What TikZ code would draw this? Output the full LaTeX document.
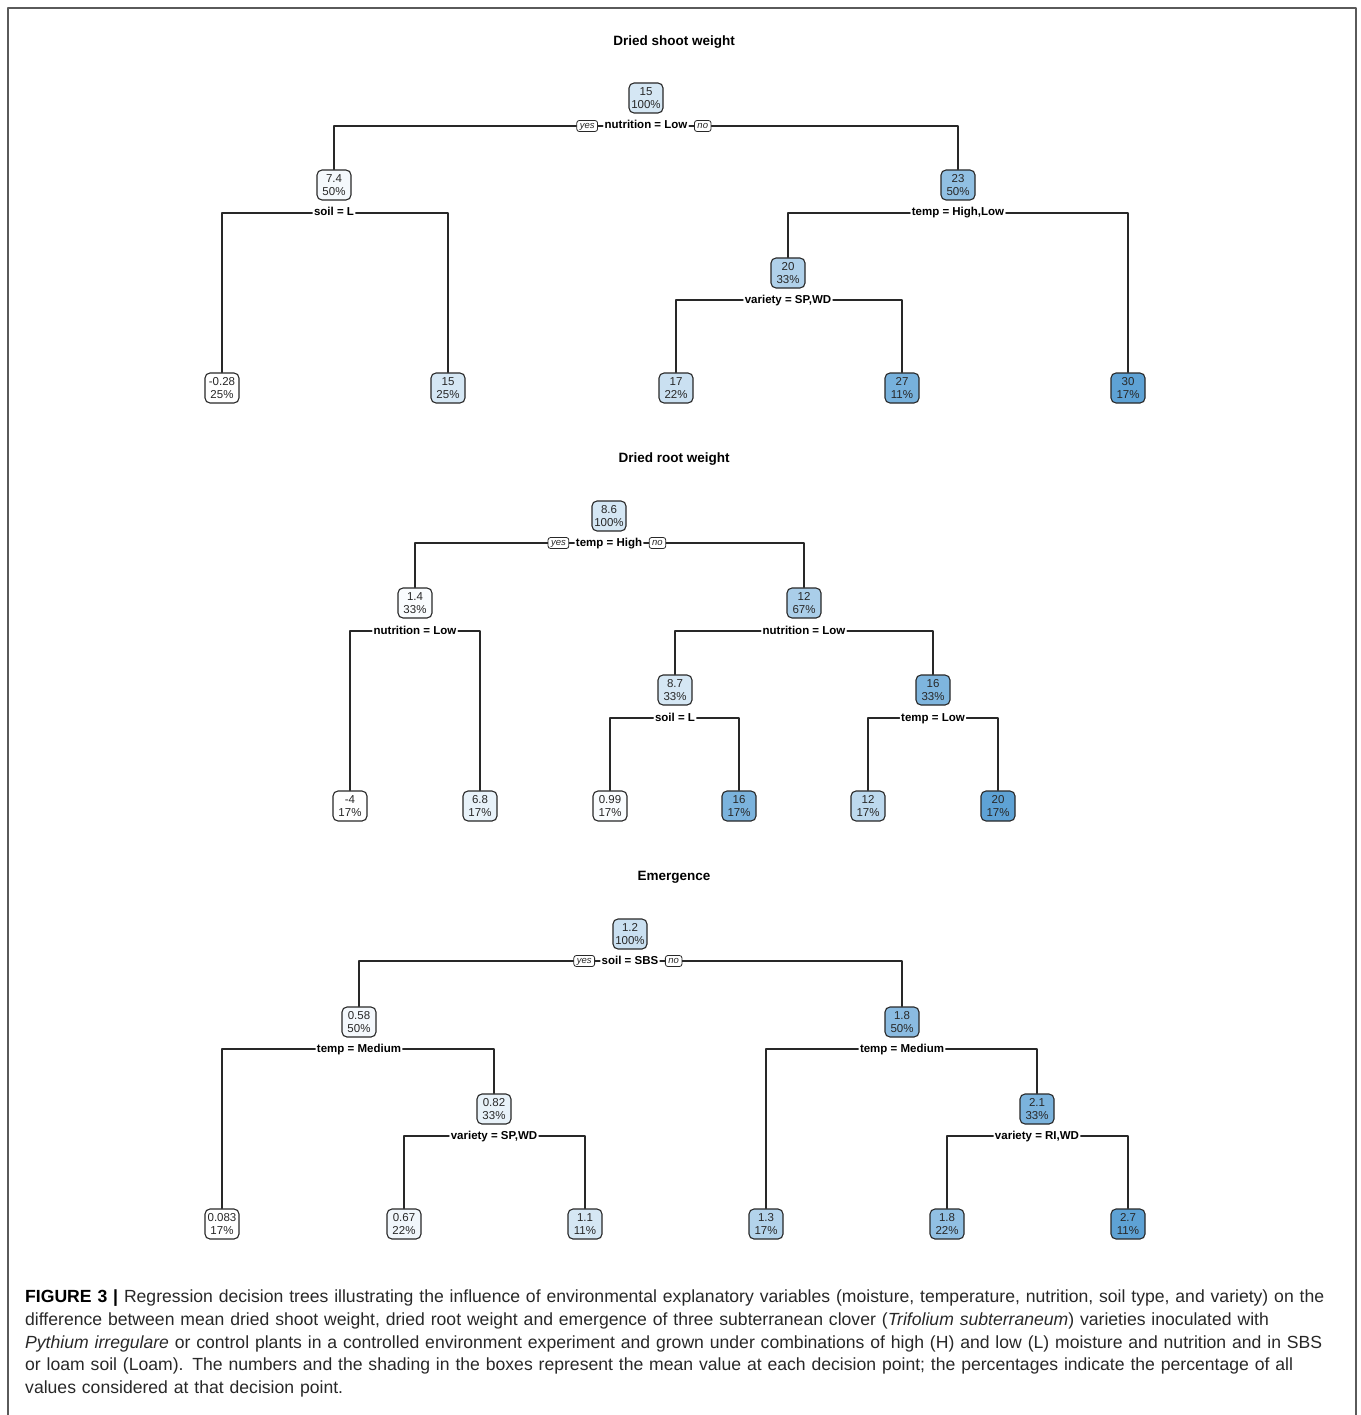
\documentclass[tikz,border=0pt]{standalone}
\usepackage{fontspec}
\setmainfont{Liberation Sans}
\usetikzlibrary{positioning}
\definecolor{treeblue}{RGB}{66,146,206}
\definecolor{framegray}{RGB}{90,90,90}
\definecolor{inkgray}{RGB}{40,40,40}
\begin{document}
\begin{tikzpicture}[x=1pt, y=-1pt, line cap=round, line join=round,
  tnode/.style={draw=inkgray, line width=1.1pt, rounded corners=5pt, align=center, minimum width=34pt, minimum height=30pt, inner sep=2pt, text=inkgray, font=\fontsize{11.5}{13.5}\selectfont},
  split/.style={inner xsep=1.5pt, inner ysep=0pt, text height=8.5pt, text depth=2.5pt, text=black, font=\bfseries\fontsize{11.5}{13}\selectfont},
  yesno/.style={draw=inkgray, line width=0.8pt, rounded corners=2.5pt, inner xsep=3pt, inner ysep=0.5pt, text height=7.5pt, text depth=2.5pt, text=inkgray, font=\itshape\fontsize{9.5}{11}\selectfont},
  edge/.style={draw=inkgray, line width=1.1pt},
  title/.style={font=\bfseries\fontsize{13.5}{16}\selectfont},
  caption/.style={anchor=north west, align=left, text width=1340pt, inner sep=0pt, text=inkgray, font=\fontsize{17.6}{22.6}\selectfont}]
  \useasboundingbox (0,0) rectangle (1360,1415);
  \clip (0,0) rectangle (1360,1415);
  % Frame
  \draw[framegray, line width=1.6pt] (8,1430) |- (1356,8) -- (1356,1430);

  % Dried shoot weight
  \node[title] (title-1) at (674,42) {Dried shoot weight};
  % First layer
  \node[tnode, fill=treeblue!22] (shoot-1-1) at (646,98) {15\\100\%};
  \node[split] (shoot-split-1) at (646,126) {nutrition = Low};
  \node[yesno, left=5pt of shoot-split-1] (shoot-yes) {yes};
  \node[yesno, right=5pt of shoot-split-1] (shoot-no) {no};
  % Second layer
  \node[tnode, fill=treeblue!6] (shoot-2-1) at (334,185) {7.4\\50\%};
  \node[tnode, fill=treeblue!58] (shoot-2-2) at (958,185) {23\\50\%};
  \node[split] (shoot-split-2) at (334,213) {soil = L};
  \node[split] (shoot-split-3) at (958,213) {temp = High,Low};
  % Third layer
  \node[tnode, fill=treeblue!42] (shoot-3-1) at (788,273) {20\\33\%};
  \node[split] (shoot-split-4) at (788,300) {variety = SP,WD};
  % Leaves
  \foreach \val/\pct/\shade/\xpos [count=\x] in {-0.28/25/0/222, 15/25/22/448, 17/22/28/676, 27/11/72/902, 30/17/85/1128}
    \node[tnode, fill=treeblue!\shade] (shoot-leaf-\x) at (\xpos,388) {\val\\\pct\%};
  % Connectors
  \draw[edge] (shoot-yes.west) -| (shoot-2-1);
  \draw[edge] (shoot-yes) -- (shoot-split-1);
  \draw[edge] (shoot-split-1) -- (shoot-no);
  \draw[edge] (shoot-no.east) -| (shoot-2-2);
  \draw[edge] (shoot-split-2.west) -| (shoot-leaf-1);
  \draw[edge] (shoot-split-2.east) -| (shoot-leaf-2);
  \draw[edge] (shoot-split-3.west) -| (shoot-3-1);
  \draw[edge] (shoot-split-3.east) -| (shoot-leaf-5);
  \draw[edge] (shoot-split-4.west) -| (shoot-leaf-3);
  \draw[edge] (shoot-split-4.east) -| (shoot-leaf-4);

  % Dried root weight
  \node[title] (title-2) at (674,459) {Dried root weight};
  % First layer
  \node[tnode, fill=treeblue!22] (root-1-1) at (609,516) {8.6\\100\%};
  \node[split] (root-split-1) at (609,543) {temp = High};
  \node[yesno, left=5pt of root-split-1] (root-yes) {yes};
  \node[yesno, right=5pt of root-split-1] (root-no) {no};
  % Second layer
  \node[tnode, fill=treeblue!3] (root-2-1) at (415,603) {1.4\\33\%};
  \node[tnode, fill=treeblue!45] (root-2-2) at (804,603) {12\\67\%};
  \node[split] (root-split-2) at (415,631) {nutrition = Low};
  \node[split] (root-split-3) at (804,631) {nutrition = Low};
  % Third layer
  \node[tnode, fill=treeblue!22] (root-3-1) at (675,690) {8.7\\33\%};
  \node[tnode, fill=treeblue!68] (root-3-2) at (933,690) {16\\33\%};
  \node[split] (root-split-4) at (675,718) {soil = L};
  \node[split] (root-split-5) at (933,718) {temp = Low};
  % Leaves
  \foreach \val/\pct/\shade/\xpos [count=\x] in {-4/17/0/350, 6.8/17/12/480, 0.99/17/3/610, 16/17/70/739, 12/17/35/868, 20/17/85/998}
    \node[tnode, fill=treeblue!\shade] (root-leaf-\x) at (\xpos,806) {\val\\\pct\%};
  % Connectors
  \draw[edge] (root-yes.west) -| (root-2-1);
  \draw[edge] (root-yes) -- (root-split-1);
  \draw[edge] (root-split-1) -- (root-no);
  \draw[edge] (root-no.east) -| (root-2-2);
  \draw[edge] (root-split-2.west) -| (root-leaf-1);
  \draw[edge] (root-split-2.east) -| (root-leaf-2);
  \draw[edge] (root-split-3.west) -| (root-3-1);
  \draw[edge] (root-split-3.east) -| (root-3-2);
  \draw[edge] (root-split-4.west) -| (root-leaf-3);
  \draw[edge] (root-split-4.east) -| (root-leaf-4);
  \draw[edge] (root-split-5.west) -| (root-leaf-5);
  \draw[edge] (root-split-5.east) -| (root-leaf-6);

  % Emergence
  \node[title] (title-3) at (674,877) {Emergence};
  % First layer
  \node[tnode, fill=treeblue!28] (emerg-1-1) at (630,934) {1.2\\100\%};
  \node[split] (emerg-split-1) at (630,961) {soil = SBS};
  \node[yesno, left=5pt of emerg-split-1] (emerg-yes) {yes};
  \node[yesno, right=5pt of emerg-split-1] (emerg-no) {no};
  % Second layer
  \node[tnode, fill=treeblue!6] (emerg-2-1) at (359,1022) {0.58\\50\%};
  \node[tnode, fill=treeblue!62] (emerg-2-2) at (902,1022) {1.8\\50\%};
  \node[split] (emerg-split-2) at (359,1049) {temp = Medium};
  \node[split] (emerg-split-3) at (902,1049) {temp = Medium};
  % Third layer
  \node[tnode, fill=treeblue!12] (emerg-3-1) at (494,1109) {0.82\\33\%};
  \node[tnode, fill=treeblue!70] (emerg-3-2) at (1037,1109) {2.1\\33\%};
  \node[split] (emerg-split-4) at (494,1136) {variety = SP,WD};
  \node[split] (emerg-split-5) at (1037,1136) {variety = RI,WD};
  % Leaves
  \foreach \val/\pct/\shade/\xpos [count=\x] in {0.083/17/0/222, 0.67/22/8/404, 1.1/11/22/585, 1.3/17/40/766, 1.8/22/58/947, 2.7/11/85/1128}
    \node[tnode, fill=treeblue!\shade] (emerg-leaf-\x) at (\xpos,1224) {\val\\\pct\%};
  % Connectors
  \draw[edge] (emerg-yes.west) -| (emerg-2-1);
  \draw[edge] (emerg-yes) -- (emerg-split-1);
  \draw[edge] (emerg-split-1) -- (emerg-no);
  \draw[edge] (emerg-no.east) -| (emerg-2-2);
  \draw[edge] (emerg-split-2.west) -| (emerg-leaf-1);
  \draw[edge] (emerg-split-2.east) -| (emerg-3-1);
  \draw[edge] (emerg-split-3.west) -| (emerg-leaf-4);
  \draw[edge] (emerg-split-3.east) -| (emerg-3-2);
  \draw[edge] (emerg-split-4.west) -| (emerg-leaf-2);
  \draw[edge] (emerg-split-4.east) -| (emerg-leaf-3);
  \draw[edge] (emerg-split-5.west) -| (emerg-leaf-5);
  \draw[edge] (emerg-split-5.east) -| (emerg-leaf-6);

  % Caption
  \node[caption] (caption) at (25,1290) {{\bfseries\color{black}FIGURE 3 |} Regression decision trees illustrating the influence of environmental explanatory variables (moisture, temperature, nutrition, soil type, and variety) on the\\
    difference between mean dried shoot weight, dried root weight and emergence of three subterranean clover (\textit{Trifolium subterraneum}) varieties inoculated with\\
    \textit{Pythium irregulare} or control plants in a controlled environment experiment and grown under combinations of high (H) and low (L) moisture and nutrition and in SBS\\
    or loam soil (Loam). The numbers and the shading in the boxes represent the mean value at each decision point; the percentages indicate the percentage of all\\
    values considered at that decision point.};
\end{tikzpicture}
\end{document}
